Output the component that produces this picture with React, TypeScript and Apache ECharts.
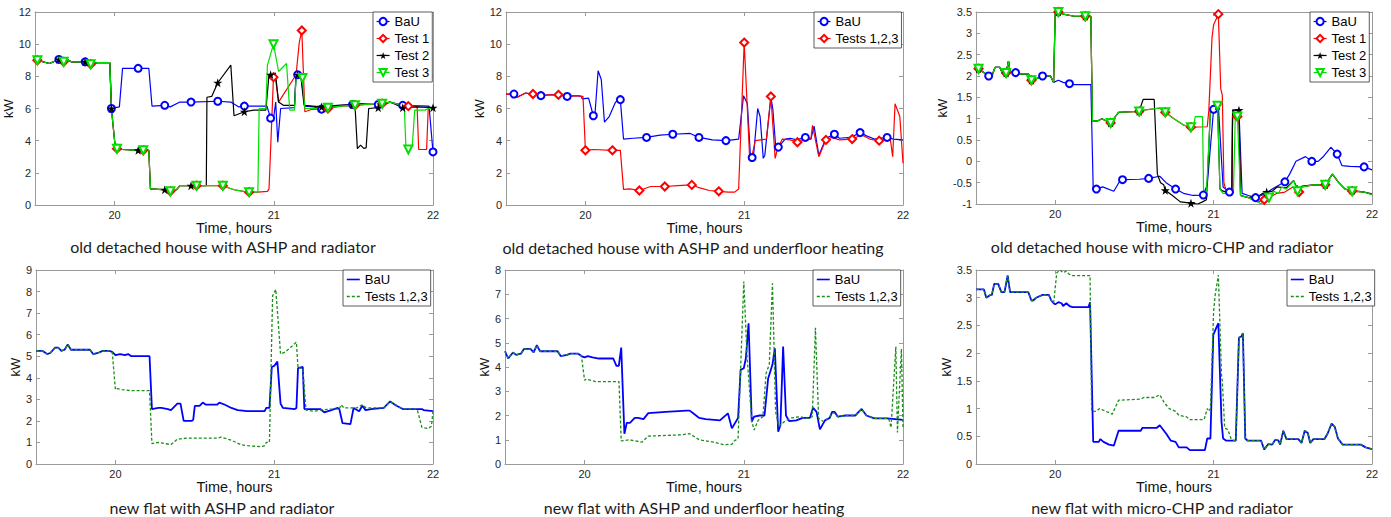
import React, { useEffect, useRef } from 'react';
import * as echarts from 'echarts';

// ---------- shared axis data ----------
const X_MIN = 19.5;
const X_MAX = 22;
const X_TICKS = [20, 21, 22];

const captions = [
  'old detached house with ASHP and radiator',
  'old detached house with ASHP and underfloor heating',
  'old detached house with micro-CHP and radiator',
  'new flat with ASHP and radiator',
  'new flat with ASHP and underfloor heating',
  'new flat with micro-CHP and radiator',
];

// ---------- panel 1 : old detached house, ASHP + radiator ----------
const p1MarksA = [19.65, 19.815, 19.98, 20.148, 20.315, 20.48, 20.648, 20.815, 20.98, 21.15, 21.3, 21.495, 21.656, 21.81, 22.0];
const p1MarksB = [19.515, 19.68, 19.85, 20.015, 20.18, 20.35, 20.515, 20.68, 20.845, 21.0, 21.18, 21.34, 21.51, 21.68, 21.845];
const p1Head = [[19.5, 9.0], [19.515, 9.0], [19.59, 8.8], [19.65, 9.05], [19.68, 8.9], [19.7, 9.05], [19.73, 8.9], [19.815, 8.9], [19.85, 8.75], [19.89, 8.85], [19.97, 8.85], [19.98, 6.0]];
const p1BaUTail = [[20.03, 6.1], [20.05, 8.5], [20.148, 8.5], [20.215, 8.5], [20.235, 6.15], [20.315, 6.2], [20.35, 6.1], [20.41, 6.4], [20.48, 6.4], [20.648, 6.45], [20.73, 6.4], [20.78, 6.1], [20.815, 6.15], [20.957, 6.15], [20.98, 5.4], [21.0, 5.5], [21.012, 6.4], [21.025, 3.9], [21.043, 6.0], [21.13, 6.05], [21.14, 8.1], [21.15, 8.1], [21.17, 8.05], [21.195, 6.15], [21.25, 6.1], [21.3, 5.96], [21.35, 6.1], [21.42, 6.2], [21.495, 6.25], [21.55, 6.3], [21.656, 6.25], [21.73, 6.4], [21.81, 6.2], [21.975, 6.15], [22.0, 3.3]];
const p1TestsLow = [[20.005, 3.5], [20.015, 3.5], [20.05, 3.45], [20.148, 3.4], [20.18, 3.4], [20.215, 3.4], [20.225, 1.0], [20.3, 0.95], [20.315, 0.95], [20.35, 0.85], [20.39, 0.95], [20.41, 1.2], [20.48, 1.2], [20.515, 1.2], [20.576, 1.2]];
const p1TestsLate = [[20.648, 1.2], [20.68, 1.2], [20.75, 0.95], [20.81, 0.85], [20.845, 0.8], [20.9, 0.8]];
const p1Test1Tail = [[20.96, 0.85], [20.97, 1.0], [20.998, 7.95], [21.01, 7.95], [21.03, 6.4], [21.14, 8.1], [21.16, 10.1], [21.176, 10.85], [21.195, 5.8], [21.24, 5.95], [21.34, 6.0], [21.42, 6.15], [21.51, 6.2], [21.58, 6.25], [21.68, 6.3], [21.73, 6.4], [21.8, 6.2], [21.845, 6.15], [21.9, 6.15], [21.91, 3.45], [21.96, 3.45], [21.97, 6.0], [22.0, 6.0]];
const p1Test2Tail = [[20.58, 6.7], [20.61, 6.75], [20.648, 7.6], [20.73, 8.7], [20.75, 5.55], [20.815, 5.8], [20.875, 5.9], [20.95, 5.9], [20.97, 8.1], [20.98, 8.1], [21.01, 8.2], [21.03, 6.4], [21.06, 6.2], [21.13, 6.2], [21.14, 8.2], [21.15, 8.1], [21.17, 8.0], [21.19, 6.2], [21.3, 6.1], [21.4, 6.2], [21.495, 6.25], [21.51, 6.2], [21.525, 3.5], [21.545, 3.72], [21.565, 3.52], [21.58, 3.55], [21.596, 6.0], [21.656, 6.05], [21.73, 6.4], [21.81, 6.05], [21.9, 6.1], [22.0, 6.05]];
const p1Test3Tail = [[20.908, 6.0], [20.95, 6.0], [20.96, 8.7], [20.998, 10.0], [21.03, 8.3], [21.08, 8.8], [21.1, 5.9], [21.13, 5.9], [21.14, 8.0], [21.18, 7.9], [21.195, 6.0], [21.25, 6.0], [21.34, 6.05], [21.42, 6.15], [21.51, 6.2], [21.58, 6.25], [21.68, 6.3], [21.73, 6.4], [21.8, 6.2], [21.82, 6.1], [21.83, 3.5], [21.845, 3.45], [21.87, 3.7], [21.885, 5.9], [21.95, 5.9], [21.97, 6.0], [22.0, 6.0]];

// ---------- panel 2 : old detached house, ASHP + underfloor ----------
const p2MarksA = [19.55, 19.72, 19.885, 20.05, 20.22, 20.385, 20.55, 20.715, 20.885, 21.05, 21.215, 21.385, 21.568, 21.73, 21.9];
const p2MarksB = [19.67, 19.83, 20.0, 20.17, 20.34, 20.5, 20.67, 20.84, 21.0, 21.168, 21.335, 21.515, 21.68, 21.85];
const p2Head = [[19.5, 6.9], [19.55, 6.9], [19.57, 6.7], [19.62, 6.95], [19.67, 6.9], [19.72, 6.8], [19.77, 6.85], [19.83, 6.85], [19.885, 6.75], [19.95, 6.8], [19.975, 6.75]];
const p2BaUTail = [[19.98, 6.6], [20.02, 6.65], [20.05, 5.55], [20.06, 5.6], [20.08, 8.35], [20.1, 7.8], [20.12, 5.15], [20.15, 5.5], [20.19, 6.4], [20.22, 6.55], [20.24, 4.1], [20.3, 4.15], [20.385, 4.2], [20.47, 4.35], [20.55, 4.4], [20.66, 4.45], [20.715, 4.2], [20.8, 4.05], [20.885, 4.0], [20.965, 4.1], [20.996, 6.8], [21.02, 6.3], [21.04, 2.9], [21.05, 2.95], [21.06, 3.2], [21.085, 6.0], [21.1, 5.5], [21.12, 2.9], [21.13, 3.1], [21.168, 6.7], [21.18, 6.0], [21.2, 3.4], [21.215, 3.6], [21.258, 4.1], [21.29, 4.15], [21.33, 4.05], [21.385, 4.2], [21.42, 4.1], [21.44, 4.9], [21.47, 3.1], [21.5, 3.8], [21.515, 4.15], [21.568, 4.4], [21.6, 4.15], [21.67, 4.2], [21.73, 4.5], [21.77, 4.3], [21.82, 4.1], [21.9, 4.2], [21.94, 4.1], [22.0, 4.05]];
const p2TestsTail = [[19.985, 6.75], [20.0, 3.4], [20.05, 3.45], [20.17, 3.4], [20.22, 3.4], [20.24, 0.97], [20.28, 1.0], [20.34, 0.9], [20.41, 1.15], [20.5, 1.15], [20.58, 1.2], [20.67, 1.25], [20.71, 1.1], [20.78, 0.9], [20.84, 0.85], [20.9, 0.8], [20.94, 0.8], [20.965, 1.0], [21.0, 10.1], [21.035, 2.8], [21.05, 3.1], [21.07, 4.0], [21.14, 4.1], [21.168, 6.75], [21.195, 2.9], [21.21, 3.5], [21.24, 4.1], [21.29, 4.05], [21.335, 3.9], [21.4, 4.1], [21.42, 4.1], [21.43, 4.95], [21.47, 3.0], [21.515, 4.05], [21.55, 4.2], [21.6, 4.05], [21.68, 4.1], [21.74, 4.35], [21.79, 4.1], [21.85, 4.0], [21.92, 4.1], [21.935, 3.0], [21.95, 6.3], [21.98, 5.5], [22.0, 2.6]];

// ---------- panel 3 : old detached house, micro-CHP + radiator ----------
const p3MarksA = [19.58, 19.75, 19.92, 20.09, 20.26, 20.425, 20.59, 20.76, 20.935, 21.0, 21.1, 21.265, 21.45, 21.62, 21.78, 21.95];
const p3MarksB = [19.516, 19.69, 19.85, 20.02, 20.19, 20.35, 20.53, 20.695, 20.857, 21.025, 21.15, 21.335, 21.53, 21.705, 21.875];
const p3Head = [[19.5, 2.15], [19.516, 2.17], [19.58, 2.0], [19.6, 2.0], [19.62, 2.2], [19.65, 2.2], [19.67, 2.05], [19.69, 2.07], [19.705, 2.35], [19.715, 2.1], [19.75, 2.08], [19.78, 2.05], [19.83, 2.05], [19.85, 1.9], [19.89, 1.95], [19.92, 2.0], [19.97, 2.0], [19.99, 1.85]];
const p3BaUTail = [[20.02, 1.9], [20.05, 1.85], [20.09, 1.82], [20.12, 1.8], [20.225, 1.8], [20.24, -0.65], [20.26, -0.65], [20.3, -0.6], [20.37, -0.7], [20.41, -0.45], [20.425, -0.43], [20.53, -0.42], [20.59, -0.4], [20.66, -0.35], [20.7, -0.5], [20.76, -0.65], [20.81, -0.75], [20.87, -0.8], [20.935, -0.79], [20.96, -0.55], [21.0, 1.22], [21.03, 1.3], [21.06, -0.6], [21.1, -0.72], [21.115, -0.8], [21.12, 1.2], [21.16, 1.2], [21.18, -0.75], [21.22, -0.8], [21.265, -0.85], [21.3, -0.8], [21.33, -0.75], [21.37, -0.65], [21.45, -0.48], [21.48, -0.3], [21.52, 0.0], [21.58, 0.11], [21.62, 0.0], [21.66, 0.0], [21.69, 0.1], [21.74, 0.33], [21.78, 0.17], [21.81, -0.1], [21.86, -0.12], [21.95, -0.13], [22.0, -0.2]];
const p3TestsA = [[20.0, 3.45], [20.01, 3.5], [20.02, 3.5], [20.05, 3.45], [20.12, 3.4], [20.19, 3.4], [20.225, 3.4], [20.235, 0.95], [20.27, 0.95], [20.295, 1.0], [20.32, 0.95], [20.35, 0.9], [20.4, 1.15], [20.53, 1.17]];
const p3TestsB = [[20.56, 1.2], [20.66, 1.25], [20.695, 1.15], [20.75, 1.0], [20.81, 0.85], [20.857, 0.8]];
const p3Test1Tail = [[20.96, 0.81], [20.97, 1.2], [20.99, 2.9], [21.0, 3.2], [21.03, 3.45], [21.045, 1.7], [21.055, 1.55], [21.065, -0.5], [21.08, -0.7], [21.1, -0.75], [21.115, -0.8], [21.12, 1.2], [21.15, 1.05], [21.16, 1.0], [21.17, -0.8], [21.22, -0.85], [21.28, -0.95], [21.32, -0.9], [21.35, -0.85], [21.4, -0.75], [21.45, -0.72], [21.5, -0.6], [21.54, -0.72], [21.56, -0.6], [21.63, -0.55], [21.705, -0.55], [21.75, -0.3], [21.79, -0.5], [21.83, -0.65], [21.875, -0.7], [21.95, -0.72], [22.0, -0.78]];
const p3Test2Tail = [[20.555, 1.45], [20.625, 1.45], [20.645, -0.3], [20.665, -0.5], [20.685, -0.55], [20.695, -0.68], [20.74, -0.8], [20.79, -0.95], [20.857, -0.98], [20.9, -1.0], [20.93, -0.95], [20.955, -0.9], [20.98, 1.2], [21.0, 1.22], [21.025, 1.3], [21.04, -0.65], [21.06, -0.7], [21.115, -0.75], [21.12, 1.2], [21.16, 1.2], [21.17, -0.8], [21.22, -0.85], [21.29, -0.8], [21.31, -0.75], [21.335, -0.72], [21.37, -0.7], [21.4, -0.6], [21.46, -0.62], [21.505, -0.45], [21.53, -0.65], [21.56, -0.58], [21.63, -0.55], [21.705, -0.55], [21.75, -0.3], [21.79, -0.5], [21.83, -0.65], [21.875, -0.68], [21.95, -0.72], [22.0, -0.76]];
const p3Test3Tail = [[20.875, 0.85], [20.884, 1.05], [20.93, 1.05], [20.937, -0.8], [20.955, -0.75], [20.98, 1.2], [21.01, 1.25], [21.025, 1.3], [21.04, -0.65], [21.06, -0.75], [21.125, -0.75], [21.137, 1.05], [21.15, 1.05], [21.17, -0.8], [21.22, -0.85], [21.28, -0.95], [21.3, -1.0], [21.31, -0.95], [21.35, -0.85], [21.38, -0.7], [21.41, -0.75], [21.43, -0.6], [21.46, -0.65], [21.505, -0.45], [21.53, -0.7], [21.56, -0.6], [21.63, -0.55], [21.705, -0.55], [21.75, -0.3], [21.79, -0.5], [21.83, -0.65], [21.875, -0.7], [21.95, -0.72], [22.0, -0.78]];

// ---------- panel 4 : new flat, ASHP + radiator ----------
const p4Head = [[19.5, 5.25], [19.54, 5.25], [19.57, 5.1], [19.59, 5.15], [19.62, 5.4], [19.64, 5.4], [19.66, 5.25], [19.68, 5.3], [19.7, 5.55], [19.72, 5.3], [19.84, 5.3], [19.86, 5.1], [19.89, 5.15], [19.92, 5.25], [19.96, 5.25], [19.98, 5.2]];
const p4BaUTail = [[20.0, 5.05], [20.03, 5.1], [20.06, 5.05], [20.08, 5.1], [20.1, 5.0], [20.215, 5.0], [20.23, 2.55], [20.27, 2.6], [20.29, 2.6], [20.33, 2.55], [20.35, 2.5], [20.39, 2.8], [20.41, 2.8], [20.43, 2.0], [20.48, 2.0], [20.49, 2.05], [20.5, 2.7], [20.53, 2.7], [20.55, 2.85], [20.57, 2.75], [20.64, 2.75], [20.655, 2.85], [20.69, 2.75], [20.73, 2.6], [20.77, 2.5], [20.83, 2.45], [20.94, 2.45], [20.95, 2.6], [20.97, 2.6], [20.985, 4.5], [21.0, 4.55], [21.02, 4.75], [21.04, 2.8], [21.055, 2.6], [21.13, 2.55], [21.14, 2.6], [21.15, 4.45], [21.18, 4.5], [21.19, 2.55], [21.29, 2.55], [21.315, 2.4], [21.36, 2.5], [21.4, 2.6], [21.41, 2.55], [21.43, 1.9], [21.48, 1.85], [21.5, 2.6], [21.51, 2.55], [21.535, 2.45], [21.555, 2.7], [21.575, 2.5], [21.61, 2.55], [21.69, 2.6], [21.73, 2.9], [21.77, 2.7], [21.81, 2.55], [21.93, 2.55], [21.94, 2.5], [22.0, 2.45]];
const p4TestsTail = [[20.0, 3.45], [20.01, 3.5], [20.04, 3.45], [20.1, 3.4], [20.215, 3.4], [20.23, 0.95], [20.27, 1.0], [20.31, 0.95], [20.35, 0.9], [20.39, 1.15], [20.45, 1.2], [20.645, 1.2], [20.665, 1.25], [20.73, 1.1], [20.79, 0.9], [20.83, 0.85], [20.92, 0.8], [20.94, 0.85], [20.95, 1.0], [20.97, 1.0], [20.99, 7.8], [21.01, 8.1], [21.04, 5.1], [21.07, 5.2], [21.14, 5.65], [21.15, 4.45], [21.18, 4.45], [21.2, 2.5], [21.25, 2.45], [21.29, 2.5], [21.36, 2.55], [21.41, 2.55], [21.42, 2.75], [21.44, 2.6], [21.52, 2.6], [21.555, 2.75], [21.58, 2.6], [21.69, 2.6], [21.73, 2.9], [21.81, 2.55], [21.9, 2.55], [21.93, 1.7], [21.97, 1.65], [21.99, 1.75], [22.0, 2.45]];

// ---------- panel 5 : new flat, ASHP + underfloor ----------
const p5Head = [[19.5, 4.65], [19.52, 4.35], [19.55, 4.6], [19.57, 4.5], [19.6, 4.55], [19.62, 4.75], [19.66, 4.75], [19.68, 4.6], [19.7, 4.9], [19.72, 4.65], [19.83, 4.65], [19.85, 4.45], [19.89, 4.5], [19.91, 4.55], [19.96, 4.55], [19.98, 4.45]];
const p5BaUTail = [[20.0, 4.4], [20.02, 4.45], [20.05, 4.4], [20.09, 4.35], [20.18, 4.35], [20.2, 4.05], [20.215, 4.05], [20.23, 4.8], [20.25, 1.25], [20.265, 1.7], [20.285, 1.7], [20.315, 1.9], [20.335, 1.9], [20.37, 1.85], [20.4, 2.1], [20.51, 2.15], [20.64, 2.2], [20.66, 2.2], [20.68, 2.1], [20.72, 1.9], [20.76, 1.85], [20.85, 1.8], [20.9, 2.09], [20.925, 1.47], [20.964, 1.9], [20.98, 3.88], [21.0, 3.95], [21.013, 4.36], [21.03, 5.8], [21.05, 1.75], [21.065, 1.95], [21.1, 2.0], [21.13, 2.0], [21.153, 3.53], [21.18, 4.1], [21.195, 4.77], [21.216, 1.33], [21.23, 1.6], [21.247, 4.84], [21.265, 2.0], [21.285, 1.77], [21.33, 1.8], [21.37, 1.9], [21.415, 1.9], [21.435, 2.32], [21.457, 2.15], [21.478, 1.43], [21.51, 1.8], [21.54, 1.9], [21.555, 2.15], [21.57, 2.15], [21.59, 1.95], [21.64, 2.0], [21.7, 2.0], [21.74, 2.27], [21.77, 2.0], [21.82, 1.88], [21.9, 1.88], [22.0, 1.82]];
const p5TestsTail = [[20.0, 3.45], [20.01, 3.5], [20.07, 3.4], [20.216, 3.4], [20.23, 0.95], [20.28, 1.0], [20.36, 0.9], [20.4, 1.15], [20.6, 1.2], [20.66, 1.25], [20.72, 1.0], [20.81, 0.9], [20.87, 0.8], [20.925, 0.81], [20.94, 0.95], [20.964, 1.05], [21.0, 7.52], [21.02, 4.5], [21.05, 1.75], [21.065, 1.4], [21.09, 1.8], [21.12, 1.95], [21.14, 3.74], [21.16, 4.1], [21.18, 7.45], [21.2, 2.15], [21.22, 1.55], [21.255, 1.75], [21.3, 1.9], [21.35, 1.95], [21.405, 1.88], [21.43, 1.95], [21.45, 5.62], [21.47, 1.88], [21.5, 1.75], [21.535, 1.9], [21.555, 2.1], [21.57, 2.1], [21.59, 1.95], [21.64, 2.0], [21.7, 2.0], [21.74, 2.27], [21.77, 2.0], [21.82, 1.88], [21.91, 1.88], [21.925, 1.5], [21.955, 4.84], [21.965, 1.3], [21.99, 4.75], [22.0, 1.5]];

// ---------- panel 6 : new flat, micro-CHP + radiator ----------
const p6Head = [[19.5, 3.15], [19.55, 3.15], [19.565, 3.0], [19.59, 3.05], [19.6, 3.05], [19.615, 3.25], [19.64, 3.25], [19.66, 3.1], [19.68, 3.1], [19.7, 3.4], [19.715, 3.1], [19.83, 3.1], [19.85, 2.95], [19.86, 2.95], [19.88, 3.0], [19.92, 3.05], [19.96, 3.05], [19.975, 2.95], [19.99, 2.9]];
const p6BaUMid = [[20.0, 2.88], [20.02, 2.92], [20.04, 2.9], [20.05, 2.85], [20.07, 2.9], [20.09, 2.85], [20.11, 2.83], [20.21, 2.83], [20.22, 2.92], [20.24, 0.4], [20.275, 0.4], [20.285, 0.45], [20.305, 0.4], [20.34, 0.35], [20.37, 0.33], [20.4, 0.6], [20.54, 0.6], [20.55, 0.65], [20.64, 0.65], [20.66, 0.7], [20.7, 0.55], [20.73, 0.42], [20.76, 0.4], [20.78, 0.3], [20.83, 0.3], [20.85, 0.25], [20.945, 0.25], [20.96, 0.46], [20.98, 0.46], [20.998, 2.33], [21.02, 2.48], [21.03, 2.54], [21.05, 0.76], [21.06, 0.46], [21.08, 0.42], [21.14, 0.42]];
const p6TestsMid = [[20.01, 3.45], [20.03, 3.5], [20.05, 3.45], [20.07, 3.48], [20.09, 3.42], [20.11, 3.4], [20.22, 3.4], [20.23, 0.95], [20.26, 0.95], [20.28, 1.0], [20.32, 0.95], [20.36, 0.9], [20.4, 1.15], [20.54, 1.17], [20.56, 1.2], [20.63, 1.2], [20.66, 1.25], [20.69, 1.1], [20.72, 1.0], [20.76, 0.95], [20.78, 0.88], [20.83, 0.85], [20.85, 0.8], [20.94, 0.8], [20.96, 1.0], [20.97, 0.95], [20.98, 1.0], [21.0, 2.75], [21.01, 3.05], [21.03, 3.41], [21.05, 1.6], [21.055, 1.5], [21.07, 0.65], [21.09, 0.62], [21.11, 0.46], [21.13, 0.42], [21.14, 0.42]];
const p6Tail = [[21.16, 2.28], [21.175, 2.3], [21.185, 2.36], [21.2, 0.46], [21.215, 0.42], [21.3, 0.42], [21.32, 0.26], [21.345, 0.36], [21.37, 0.35], [21.39, 0.44], [21.41, 0.42], [21.42, 0.35], [21.44, 0.6], [21.46, 0.45], [21.535, 0.45], [21.555, 0.38], [21.575, 0.6], [21.595, 0.56], [21.61, 0.38], [21.63, 0.45], [21.7, 0.45], [21.72, 0.55], [21.745, 0.73], [21.765, 0.67], [21.785, 0.46], [21.815, 0.35], [21.93, 0.35], [21.96, 0.3], [22.0, 0.27]];

// ---------- styling ----------
const FONT = "'Liberation Sans', Arial, Helvetica, sans-serif";
const CAPTION_FONT = "Lato, 'Open Sans', sans-serif";
const AXIS_COLOR = '#9a9a9a';
const STAR = 'path://M50 0 L61.2 34.5 L97.6 34.5 L68.2 55.9 L79.4 90.5 L50 69.1 L20.6 90.5 L31.8 55.9 L2.4 34.5 L38.8 34.5 Z';
const BLUE = '#0000ff';
const RED = '#ff0000';
const BLACK = '#000000';
const LIME = '#00e000';
const DKGREEN = '#1a8f1a';

type SDef = {
  name: string;
  data: number[][];
  color: string;
  symbol?: string;
  size?: number;
  rotate?: number;
  marks?: number[];
  dashed?: boolean;
  width?: number;
};

const panels = [
  {
    grid: { left: 35, top: 12, width: 398, height: 193 },
    y: { min: 0, max: 12, interval: 2 }, kwGap: 17,
    legend: { left: 373, top: 12 }, cap: { x: 223, y: 246 }, markers: true,
    series: [
      { name: 'BaU', data: [...p1Head, ...p1BaUTail], color: BLUE, symbol: 'emptyCircle', size: 7, marks: p1MarksA },
      { name: 'Test 1', data: [...p1Head, ...p1TestsLow, ...p1TestsLate, ...p1Test1Tail], color: RED, symbol: 'emptyDiamond', size: 8, marks: p1MarksB },
      { name: 'Test 2', data: [...p1Head, ...p1TestsLow, ...p1Test2Tail], color: BLACK, symbol: STAR, size: 9, marks: p1MarksA },
      { name: 'Test 3', data: [...p1Head, ...p1TestsLow, ...p1TestsLate, ...p1Test3Tail], color: LIME, symbol: 'emptyTriangle', rotate: 180, size: 8, marks: p1MarksB },
    ] as SDef[],
  },
  {
    grid: { left: 506, top: 12, width: 397, height: 193 },
    y: { min: 0, max: 12, interval: 2 }, kwGap: 17,
    legend: { left: 814, top: 12 }, cap: { x: 693, y: 247 }, markers: true,
    series: [
      { name: 'BaU', data: [...p2Head, ...p2BaUTail], color: BLUE, symbol: 'emptyCircle', size: 7, marks: p2MarksA },
      { name: 'Tests 1,2,3', data: [...p2Head, ...p2TestsTail], color: RED, symbol: 'emptyDiamond', size: 8, marks: p2MarksB },
    ] as SDef[],
  },
  {
    grid: { left: 976, top: 12, width: 396, height: 192 },
    y: { min: -1, max: 3.5, interval: 0.5 }, kwGap: 22,
    legend: { left: 1310, top: 12 }, cap: { x: 1162, y: 246 }, markers: true,
    series: [
      { name: 'BaU', data: [...p3Head, ...p3BaUTail], color: BLUE, symbol: 'emptyCircle', size: 7, marks: p3MarksA },
      { name: 'Test 1', data: [...p3Head, ...p3TestsA, ...p3TestsB, ...p3Test1Tail], color: RED, symbol: 'emptyDiamond', size: 8, marks: p3MarksB },
      { name: 'Test 2', data: [...p3Head, ...p3TestsA, ...p3Test2Tail], color: BLACK, symbol: STAR, size: 9, marks: p3MarksB },
      { name: 'Test 3', data: [...p3Head, ...p3TestsA, ...p3TestsB, ...p3Test3Tail], color: LIME, symbol: 'emptyTriangle', rotate: 180, size: 8, marks: p3MarksB },
    ] as SDef[],
  },
  {
    grid: { left: 36, top: 270, width: 397, height: 194 },
    y: { min: 0, max: 9, interval: 1 }, kwGap: 12,
    legend: { left: 343, top: 270 }, cap: { x: 222, y: 507 }, markers: false,
    series: [
      { name: 'BaU', data: [...p4Head, ...p4BaUTail], color: BLUE, width: 1.8 },
      { name: 'Tests 1,2,3', data: [...p4Head, ...p4TestsTail], color: DKGREEN, dashed: true, width: 1.3 },
    ] as SDef[],
  },
  {
    grid: { left: 505, top: 270, width: 398, height: 194 },
    y: { min: 0, max: 8, interval: 1 }, kwGap: 11,
    legend: { left: 813, top: 270 }, cap: { x: 694, y: 507 }, markers: false,
    series: [
      { name: 'BaU', data: [...p5Head, ...p5BaUTail], color: BLUE, width: 1.8 },
      { name: 'Tests 1,2,3', data: [...p5Head, ...p5TestsTail], color: DKGREEN, dashed: true, width: 1.3 },
    ] as SDef[],
  },
  {
    grid: { left: 976, top: 270, width: 396, height: 194 },
    y: { min: 0, max: 3.5, interval: 0.5 }, kwGap: 17,
    legend: { left: 1287, top: 270 }, cap: { x: 1162, y: 507 }, markers: false,
    series: [
      { name: 'BaU', data: [...p6Head, ...p6BaUMid, ...p6Tail], color: BLUE, width: 1.8 },
      { name: 'Tests 1,2,3', data: [...p6Head, ...p6TestsMid, ...p6Tail], color: DKGREEN, dashed: true, width: 1.3 },
    ] as SDef[],
  },
];

function markData(points: number[][], marks?: number[]) {
  if (!marks) return points.map((p) => ({ value: p }));
  const hit = new Set<number>();
  for (const m of marks) {
    let best = -1;
    let bd = Infinity;
    points.forEach((p, i) => {
      const d = Math.abs(p[0] - m);
      if (d < bd) { bd = d; best = i; }
    });
    if (best >= 0 && bd < 0.03) hit.add(best);
  }
  return points.map((p, i) => (hit.has(i) ? { value: p } : { value: p, symbol: 'none' }));
}

function buildOption() {
  const xAxis: any[] = [];
  const yAxis: any[] = [];
  const series: any[] = [];
  const legend: any[] = [];
  const graphic: any[] = [];

  panels.forEach((p, i) => {
    const tick = { show: true, inside: true, length: 4, lineStyle: { color: AXIS_COLOR, width: 1 } };
    const line = { show: true, onZero: false, lineStyle: { color: AXIS_COLOR, width: 1 } };
    xAxis.push({
      type: 'value', gridIndex: i, position: 'bottom', min: X_MIN, max: X_MAX,
      axisLine: line,
      axisTick: { ...tick, customValues: X_TICKS },
      axisLabel: { customValues: X_TICKS, fontSize: 11, color: '#262626', fontFamily: FONT, margin: 4 },
      splitLine: { show: false },
      name: 'Time, hours', nameLocation: 'middle', nameGap: 11,
      nameTextStyle: { fontSize: 14.5, color: '#111', fontFamily: FONT },
    });
    xAxis.push({
      type: 'value', gridIndex: i, position: 'top', min: X_MIN, max: X_MAX,
      axisLine: line,
      axisTick: { ...tick, customValues: X_TICKS },
      axisLabel: { show: false },
      splitLine: { show: false },
    });
    yAxis.push({
      type: 'value', gridIndex: i, position: 'left', min: p.y.min, max: p.y.max, interval: p.y.interval,
      axisLine: line, axisTick: tick,
      axisLabel: { fontSize: 11, color: '#262626', fontFamily: FONT, margin: 4 },
      splitLine: { show: false },
      name: 'kW', nameLocation: 'middle', nameGap: p.kwGap,
      nameTextStyle: { fontSize: 13, color: '#111', fontFamily: FONT },
    });
    yAxis.push({
      type: 'value', gridIndex: i, position: 'right', min: p.y.min, max: p.y.max, interval: p.y.interval,
      axisLine: line, axisTick: tick,
      axisLabel: { show: false },
      splitLine: { show: false },
    });

    const names: string[] = [];
    p.series.forEach((s) => {
      const nm = `${s.name}|${i}`;
      names.push(nm);
      series.push({
        type: 'line', name: nm, xAxisIndex: 2 * i, yAxisIndex: 2 * i,
        data: p.markers ? markData(s.data, s.marks) : s.data.map((d) => ({ value: d })),
        symbol: p.markers ? s.symbol : 'none',
        symbolSize: s.size || 7,
        symbolRotate: s.rotate || 0,
        showSymbol: !!p.markers,
        color: s.color,
        itemStyle: { color: s.color, borderWidth: 1.1 },
        lineStyle: { color: s.color, width: s.width || 1.2, type: s.dashed ? [3, 2] : 'solid' },
        emphasis: { disabled: true },
        silent: true,
        clip: true,
      });
    });

    legend.push({
      data: names,
      orient: 'vertical',
      left: p.legend.left, top: p.legend.top,
      itemWidth: 13, itemHeight: 9, itemGap: 2,
      padding: [2, 3, 2, 3],
      backgroundColor: '#ffffff',
      borderColor: '#333333', borderWidth: 0.8, borderRadius: 0,
      textStyle: { fontSize: 13, color: '#000', fontFamily: FONT, lineHeight: 15 },
      formatter: (n: string) => n.split('|')[0],
      selectedMode: false,
      itemStyle: p.markers ? {} : { opacity: 0 },
      lineStyle: { width: p.markers ? 1.2 : 1.6 },
    });

    graphic.push({
      type: 'text', x: p.cap.x, y: p.cap.y, silent: true,
      style: {
        text: captions[i], fill: '#1c1c1c',
        font: `16px ${CAPTION_FONT}`,
        textAlign: 'center', textVerticalAlign: 'middle',
        align: 'center', verticalAlign: 'middle',
      },
    });
  });

  return {
    animation: false,
    backgroundColor: '#ffffff',
    grid: panels.map((p) => ({ ...p.grid, containLabel: false, show: false })),
    xAxis, yAxis, series, legend, graphic,
    tooltip: { show: false },
  };
}

export default function App() {
  const ref = useRef<HTMLDivElement>(null);
  useEffect(() => {
    if (!ref.current) return;
    const chart = echarts.init(ref.current, undefined, { renderer: 'svg' });
    chart.setOption(buildOption() as any);
    return () => chart.dispose();
  }, []);
  return (
    <div
      ref={ref}
      style={{ position: 'absolute', left: 0, top: 0, width: 1391, height: 517, background: '#fff' }}
    />
  );
}
